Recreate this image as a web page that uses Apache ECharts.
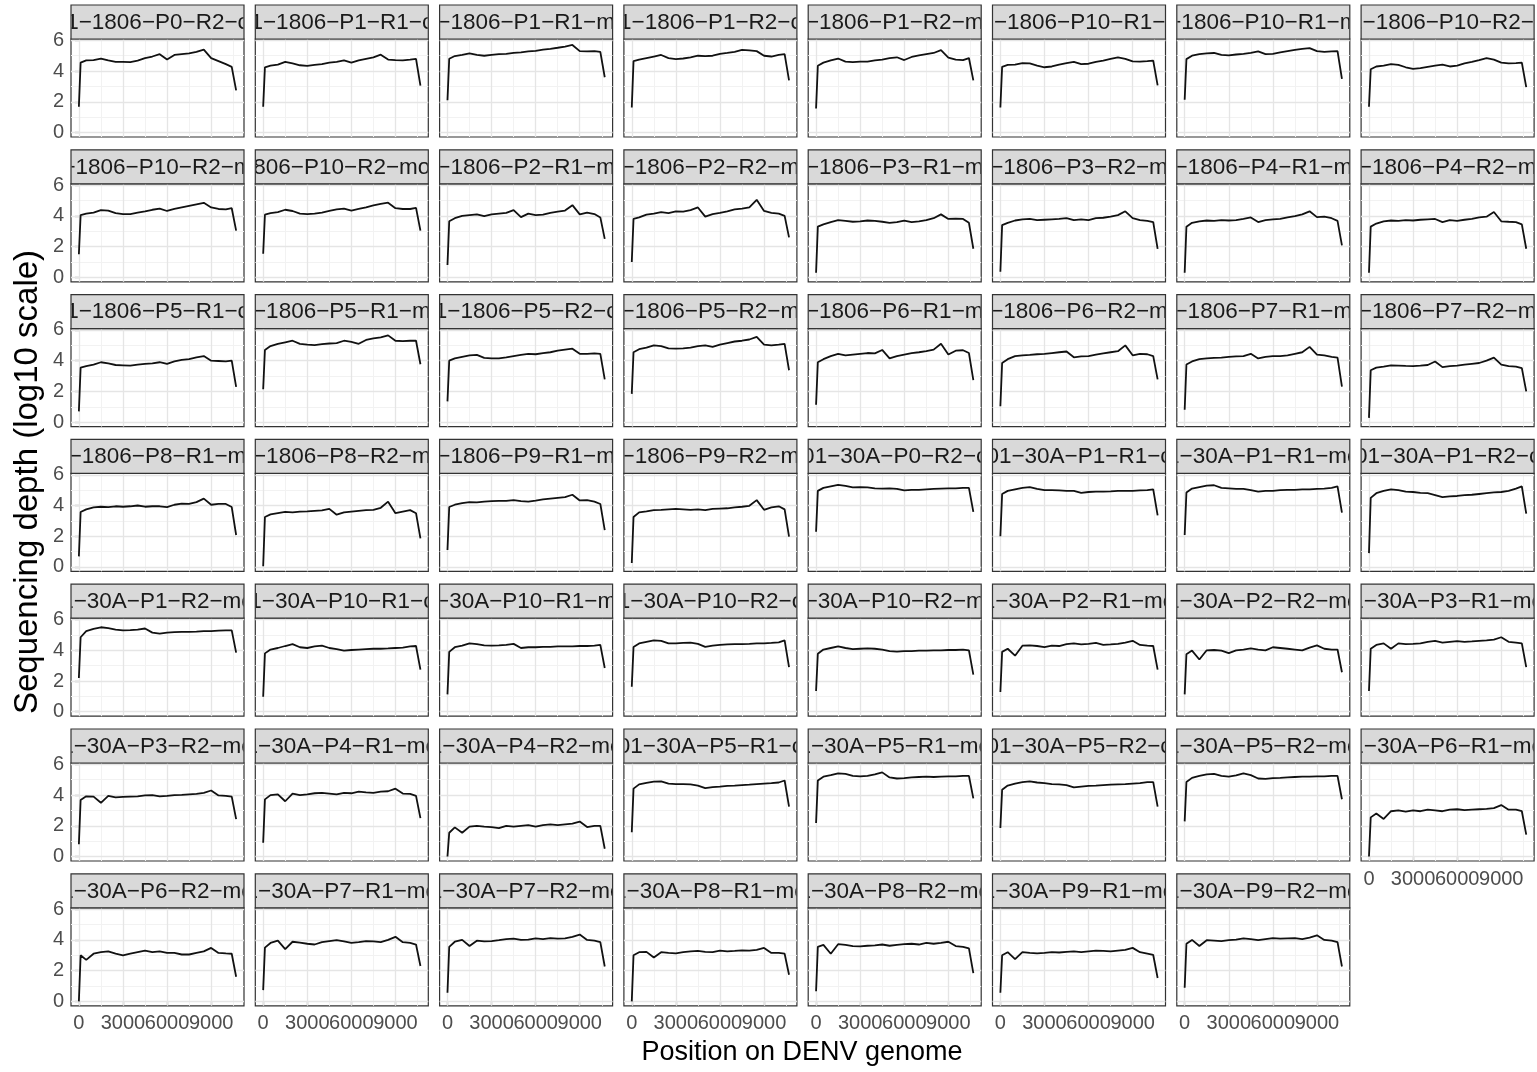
<!DOCTYPE html>
<html>
<head>
<meta charset="utf-8">
<script src="https://cdn.jsdelivr.net/npm/echarts@6/dist/echarts.min.js"></script>
<style>
html, body { margin: 0; padding: 0; background: #fff; }
#chart { width: 1537px; height: 1072px; }
</style>
</head>
<body>
<div id="chart"></div>
<script>
// position on the genome (bp) where the depth was read
var positions = [0, 120, 500, 1000, 1500, 2000, 2500, 3000, 3500, 4000, 4500, 5000, 5500, 6000, 6500, 7000, 7500, 8000, 8500, 9000, 9500, 10000, 10400, 10700];

// strip labels, as far as they show inside the strips (clipped at both ends)
var panelNames = [
  '1−1806−P0−R2−c', '1−1806−P1−R1−c', '−1806−P1−R1−m', '1−1806−P1−R2−c', '−1806−P1−R2−m', '1−1806−P10−R1−c', '−1806−P10−R1−m', '1−1806−P10−R2−c',
  '−1806−P10−R2−m', '806−P10−R2−mo', '−1806−P2−R1−m', '−1806−P2−R2−m', '−1806−P3−R1−m', '−1806−P3−R2−m', '−1806−P4−R1−m', '−1806−P4−R2−m',
  '1−1806−P5−R1−c', '−1806−P5−R1−m', '1−1806−P5−R2−c', '−1806−P5−R2−m', '−1806−P6−R1−m', '−1806−P6−R2−m', '−1806−P7−R1−m', '−1806−P7−R2−m',
  '−1806−P8−R1−m', '−1806−P8−R2−m', '−1806−P9−R1−m', '−1806−P9−R2−m', '01−30A−P0−R2−c', '01−30A−P1−R1−c', '1−30A−P1−R1−mo', '01−30A−P1−R2−c',
  '1−30A−P1−R2−mo', '1−30A−P10−R1−c', '−30A−P10−R1−m', '1−30A−P10−R2−c', '−30A−P10−R2−m', '1−30A−P2−R1−mo', '1−30A−P2−R2−mo', '1−30A−P3−R1−mo',
  '1−30A−P3−R2−mo', '1−30A−P4−R1−mo', '1−30A−P4−R2−mo', '01−30A−P5−R1−c', '1−30A−P5−R1−mo', '01−30A−P5−R2−c', '1−30A−P5−R2−mo', '1−30A−P6−R1−mo',
  '1−30A−P6−R2−mo', '1−30A−P7−R1−mo', '1−30A−P7−R2−mo', '1−30A−P8−R1−mo', '1−30A−P8−R2−mo', '1−30A−P9−R1−mo', '1−30A−P9−R2−mo'
];

// sequencing depth, log10, one array per panel
var d01 = [1.68, 4.55, 4.7, 4.72, 4.82, 4.7, 4.6, 4.6, 4.58, 4.68, 4.85, 4.95, 5.1, 4.75, 5.05, 5.1, 5.15, 5.25, 5.4, 4.85, 4.65, 4.45, 4.28, 2.75];
var d02 = [1.68, 4.25, 4.35, 4.42, 4.6, 4.5, 4.38, 4.34, 4.4, 4.45, 4.55, 4.6, 4.7, 4.55, 4.7, 4.8, 4.9, 5.07, 4.75, 4.72, 4.7, 4.75, 4.8, 3.05];
var d03 = [2.1, 4.8, 4.98, 5.05, 5.15, 5.05, 5.0, 5.05, 5.1, 5.12, 5.18, 5.22, 5.28, 5.32, 5.4, 5.45, 5.52, 5.6, 5.7, 5.3, 5.28, 5.3, 5.25, 3.6];
var d04 = [1.63, 4.65, 4.75, 4.85, 4.95, 5.05, 4.85, 4.78, 4.82, 4.9, 5.0, 4.98, 5.0, 5.12, 5.18, 5.25, 5.38, 5.35, 5.3, 5.0, 4.95, 5.05, 5.1, 3.4];
var d05 = [1.57, 4.35, 4.55, 4.7, 4.82, 4.62, 4.58, 4.62, 4.62, 4.7, 4.75, 4.85, 4.9, 4.72, 4.92, 5.02, 5.1, 5.18, 5.36, 4.88, 4.75, 4.72, 4.85, 3.4];
var d06 = [1.63, 4.28, 4.4, 4.42, 4.52, 4.5, 4.35, 4.25, 4.3, 4.42, 4.52, 4.6, 4.45, 4.48, 4.6, 4.68, 4.8, 4.9, 4.8, 4.63, 4.62, 4.65, 4.68, 3.07];
var d07 = [2.14, 4.78, 5.0, 5.1, 5.15, 5.18, 5.05, 5.02, 5.08, 5.12, 5.18, 5.28, 5.1, 5.12, 5.22, 5.3, 5.38, 5.45, 5.5, 5.3, 5.25, 5.28, 5.3, 3.5];
var d08 = [1.68, 4.12, 4.3, 4.35, 4.45, 4.4, 4.25, 4.15, 4.2, 4.28, 4.35, 4.42, 4.3, 4.35, 4.5, 4.6, 4.72, 4.85, 4.75, 4.55, 4.5, 4.52, 4.55, 2.96];
var d09 = [1.5, 4.05, 4.15, 4.22, 4.38, 4.35, 4.18, 4.12, 4.12, 4.22, 4.3, 4.4, 4.48, 4.32, 4.45, 4.55, 4.65, 4.75, 4.85, 4.55, 4.45, 4.42, 4.5, 3.04];
var d10 = [1.54, 4.08, 4.18, 4.25, 4.4, 4.32, 4.15, 4.12, 4.15, 4.22, 4.32, 4.42, 4.48, 4.35, 4.45, 4.55, 4.68, 4.78, 4.86, 4.5, 4.45, 4.45, 4.52, 3.04];
var d11 = [0.8, 3.65, 3.85, 4.0, 4.05, 4.1, 3.98, 4.1, 4.15, 4.2, 4.38, 3.92, 4.15, 4.05, 4.08, 4.2, 4.28, 4.35, 4.7, 4.1, 4.22, 4.12, 3.9, 2.5];
var d12 = [1.0, 3.8, 3.9, 4.08, 4.15, 4.25, 4.18, 4.3, 4.28, 4.38, 4.55, 3.95, 4.12, 4.2, 4.3, 4.42, 4.48, 4.55, 5.05, 4.32, 4.2, 4.15, 4.0, 2.6];
var d13 = [0.3, 3.3, 3.45, 3.6, 3.72, 3.68, 3.62, 3.65, 3.7, 3.68, 3.62, 3.55, 3.6, 3.7, 3.6, 3.65, 3.72, 3.85, 4.1, 3.8, 3.82, 3.8, 3.55, 1.86];
var d14 = [0.36, 3.4, 3.55, 3.7, 3.78, 3.8, 3.72, 3.75, 3.78, 3.8, 3.85, 3.72, 3.78, 3.72, 3.85, 3.88, 3.95, 4.05, 4.3, 3.85, 3.72, 3.68, 3.6, 1.86];
var d15 = [0.3, 3.3, 3.55, 3.65, 3.7, 3.68, 3.72, 3.7, 3.72, 3.8, 3.9, 3.6, 3.72, 3.78, 3.8, 3.9, 3.98, 4.1, 4.3, 3.92, 3.95, 3.85, 3.68, 2.08];
var d16 = [0.3, 3.3, 3.5, 3.65, 3.7, 3.68, 3.72, 3.7, 3.75, 3.78, 3.8, 3.6, 3.72, 3.68, 3.75, 3.8, 3.9, 3.95, 4.25, 3.65, 3.62, 3.6, 3.45, 1.86];
var d17 = [0.7, 3.55, 3.65, 3.75, 3.9, 3.82, 3.72, 3.7, 3.68, 3.75, 3.8, 3.82, 3.9, 3.8, 3.95, 4.05, 4.1, 4.22, 4.3, 4.0, 3.98, 3.95, 4.0, 2.3];
var d18 = [2.14, 4.7, 4.95, 5.1, 5.2, 5.3, 5.1, 5.05, 5.02, 5.08, 5.12, 5.15, 5.3, 5.22, 5.1, 5.35, 5.45, 5.52, 5.65, 5.3, 5.28, 5.3, 5.3, 3.77];
var d19 = [1.35, 4.0, 4.15, 4.25, 4.35, 4.38, 4.18, 4.15, 4.15, 4.22, 4.3, 4.38, 4.45, 4.42, 4.5, 4.55, 4.65, 4.72, 4.78, 4.45, 4.45, 4.48, 4.45, 2.78];
var d20 = [1.84, 4.55, 4.75, 4.85, 5.0, 4.95, 4.8, 4.78, 4.8, 4.85, 4.95, 5.0, 4.9, 5.05, 5.15, 5.25, 5.3, 5.38, 5.55, 5.05, 5.0, 5.05, 5.1, 3.38];
var d21 = [1.13, 3.9, 4.1, 4.3, 4.45, 4.35, 4.4, 4.45, 4.5, 4.48, 4.7, 4.15, 4.3, 4.4, 4.5, 4.55, 4.62, 4.72, 5.1, 4.4, 4.65, 4.68, 4.5, 2.74];
var d22 = [1.03, 3.85, 4.1, 4.3, 4.35, 4.38, 4.42, 4.45, 4.5, 4.55, 4.6, 4.22, 4.28, 4.3, 4.4, 4.48, 4.55, 4.62, 5.0, 4.35, 4.45, 4.42, 4.3, 2.78];
var d23 = [0.81, 3.75, 3.95, 4.1, 4.15, 4.18, 4.2, 4.25, 4.28, 4.3, 4.45, 4.15, 4.25, 4.3, 4.3, 4.35, 4.45, 4.55, 4.9, 4.4, 4.35, 4.25, 4.2, 2.31];
var d24 = [0.28, 3.38, 3.55, 3.62, 3.7, 3.68, 3.66, 3.65, 3.68, 3.72, 3.95, 3.58, 3.65, 3.68, 3.75, 3.8, 3.85, 4.0, 4.2, 3.75, 3.65, 3.62, 3.52, 2.0];
var d25 = [0.69, 3.58, 3.75, 3.88, 3.92, 3.9, 3.95, 3.92, 3.95, 4.0, 3.92, 3.95, 3.95, 3.9, 4.05, 4.12, 4.1, 4.22, 4.45, 4.05, 4.1, 4.1, 3.9, 2.08];
var d26 = [0.05, 3.25, 3.42, 3.5, 3.58, 3.55, 3.6, 3.62, 3.65, 3.68, 3.78, 3.4, 3.55, 3.6, 3.65, 3.7, 3.72, 3.85, 4.25, 3.5, 3.6, 3.7, 3.5, 1.86];
var d27 = [1.1, 3.9, 4.05, 4.15, 4.22, 4.2, 4.25, 4.28, 4.3, 4.3, 4.35, 4.28, 4.25, 4.32, 4.4, 4.45, 4.5, 4.55, 4.7, 4.33, 4.35, 4.25, 4.1, 2.4];
var d28 = [0.26, 3.25, 3.55, 3.62, 3.7, 3.72, 3.75, 3.78, 3.75, 3.72, 3.75, 3.7, 3.78, 3.8, 3.82, 3.88, 3.92, 3.98, 4.35, 3.72, 3.88, 3.95, 3.75, 1.97];
var d29 = [2.29, 4.95, 5.15, 5.25, 5.35, 5.28, 5.18, 5.2, 5.18, 5.12, 5.1, 5.12, 5.08, 4.98, 5.02, 5.02, 5.05, 5.08, 5.1, 5.12, 5.12, 5.15, 5.15, 3.58];
var d30 = [2.0, 4.75, 4.95, 5.05, 5.15, 5.2, 5.08, 5.0, 5.0, 4.98, 4.95, 4.95, 4.82, 4.88, 4.9, 4.9, 4.92, 4.95, 4.95, 4.95, 4.98, 5.0, 5.05, 3.36];
var d31 = [2.08, 4.85, 5.1, 5.2, 5.3, 5.32, 5.15, 5.12, 5.08, 5.08, 5.0, 4.9, 4.95, 4.95, 5.0, 5.02, 5.02, 5.05, 5.05, 5.08, 5.1, 5.15, 5.25, 3.53];
var d32 = [0.9, 4.5, 4.8, 4.95, 5.05, 5.0, 4.9, 4.88, 4.82, 4.8, 4.68, 4.55, 4.6, 4.62, 4.68, 4.7, 4.75, 4.8, 4.85, 4.88, 4.95, 5.1, 5.25, 3.47];
var d33 = [2.2, 4.85, 5.25, 5.4, 5.5, 5.45, 5.35, 5.3, 5.32, 5.35, 5.42, 5.15, 5.08, 5.15, 5.18, 5.2, 5.2, 5.22, 5.25, 5.25, 5.28, 5.3, 5.3, 3.85];
var d34 = [0.98, 3.8, 4.05, 4.15, 4.28, 4.4, 4.2, 4.15, 4.25, 4.3, 4.15, 4.08, 3.98, 4.02, 4.05, 4.08, 4.1, 4.1, 4.12, 4.15, 4.18, 4.25, 4.28, 2.74];
var d35 = [1.13, 3.9, 4.2, 4.3, 4.45, 4.4, 4.32, 4.3, 4.32, 4.35, 4.42, 4.15, 4.2, 4.2, 4.22, 4.22, 4.25, 4.25, 4.25, 4.28, 4.28, 4.3, 4.35, 2.85];
var d36 = [1.63, 4.22, 4.45, 4.55, 4.65, 4.62, 4.45, 4.45, 4.48, 4.5, 4.42, 4.22, 4.3, 4.35, 4.38, 4.4, 4.4, 4.42, 4.45, 4.45, 4.48, 4.52, 4.65, 2.91];
var d37 = [1.35, 3.78, 4.05, 4.15, 4.25, 4.15, 4.08, 4.1, 4.12, 4.1, 4.05, 3.95, 3.92, 3.95, 3.95, 3.98, 3.98, 4.0, 4.0, 4.02, 4.02, 4.05, 4.0, 2.42];
var d38 = [1.28, 3.9, 4.1, 3.65, 4.3, 4.32, 4.28, 4.2, 4.3, 4.28, 4.4, 4.45, 4.38, 4.42, 4.48, 4.35, 4.38, 4.42, 4.5, 4.62, 4.35, 4.3, 4.28, 2.74];
var d39 = [1.13, 3.75, 3.98, 3.4, 4.0, 4.02, 3.98, 3.82, 4.0, 4.05, 4.12, 4.05, 4.0, 4.2, 4.15, 4.1, 4.05, 4.0, 4.18, 4.32, 4.1, 4.05, 4.05, 2.57];
var d40 = [1.35, 4.1, 4.35, 4.45, 4.1, 4.45, 4.4, 4.42, 4.45, 4.55, 4.62, 4.5, 4.55, 4.6, 4.55, 4.58, 4.62, 4.65, 4.7, 4.85, 4.55, 4.5, 4.45, 2.91];
var d41 = [0.8, 3.68, 3.92, 3.9, 3.5, 3.95, 3.85, 3.88, 3.9, 3.92, 3.98, 4.0, 3.92, 3.95, 4.0, 4.02, 4.05, 4.08, 4.15, 4.3, 3.98, 3.95, 3.9, 2.44];
var d42 = [0.9, 3.72, 4.0, 4.05, 3.6, 4.1, 4.0, 4.05, 4.12, 4.15, 4.1, 4.05, 4.15, 4.12, 4.22, 4.18, 4.15, 4.22, 4.25, 4.42, 4.1, 4.08, 3.95, 2.5];
var d43 = [0.0, 1.55, 1.9, 1.55, 1.95, 2.0, 1.95, 1.92, 1.85, 2.0, 1.95, 2.0, 2.05, 1.95, 2.05, 2.1, 2.05, 2.1, 2.15, 2.28, 1.92, 2.0, 2.0, 0.51];
var d44 = [1.58, 4.42, 4.7, 4.8, 4.88, 4.9, 4.75, 4.72, 4.72, 4.7, 4.62, 4.45, 4.52, 4.55, 4.6, 4.62, 4.65, 4.68, 4.72, 4.75, 4.78, 4.82, 4.95, 3.25];
var d45 = [2.18, 4.95, 5.2, 5.3, 5.42, 5.38, 5.25, 5.22, 5.25, 5.35, 5.48, 5.15, 5.08, 5.1, 5.15, 5.18, 5.2, 5.18, 5.2, 5.22, 5.22, 5.25, 5.25, 3.79];
var d46 = [1.86, 4.35, 4.62, 4.75, 4.85, 4.9, 4.82, 4.78, 4.72, 4.7, 4.65, 4.5, 4.55, 4.6, 4.62, 4.65, 4.68, 4.7, 4.72, 4.75, 4.78, 4.85, 4.85, 3.25];
var d47 = [2.29, 4.85, 5.12, 5.25, 5.35, 5.38, 5.25, 5.2, 5.28, 5.42, 5.3, 5.08, 5.05, 5.1, 5.12, 5.15, 5.18, 5.2, 5.2, 5.22, 5.22, 5.25, 5.25, 3.73];
var d48 = [0.0, 2.55, 2.8, 2.45, 2.95, 3.0, 2.92, 3.0, 2.95, 3.05, 3.0, 2.95, 3.05, 3.08, 3.02, 3.05, 3.08, 3.1, 3.15, 3.35, 3.05, 3.05, 2.95, 1.43];
var d49 = [0.0, 3.0, 2.7, 3.1, 3.2, 3.25, 3.1, 3.0, 3.1, 3.2, 3.3, 3.2, 3.25, 3.15, 3.15, 3.05, 3.05, 3.15, 3.25, 3.48, 3.15, 3.12, 3.1, 1.6];
var d50 = [0.73, 3.5, 3.8, 3.95, 3.4, 3.88, 3.82, 3.75, 3.7, 3.85, 3.92, 3.98, 3.9, 3.8, 3.85, 3.92, 3.9, 3.85, 4.0, 4.2, 3.85, 3.8, 3.7, 2.3];
var d51 = [0.56, 3.55, 3.88, 4.0, 3.6, 3.95, 3.9, 3.92, 3.98, 4.05, 4.08, 4.0, 4.02, 4.1, 4.05, 4.12, 4.08, 4.1, 4.2, 4.35, 4.0, 3.95, 3.85, 2.27];
var d52 = [0.0, 3.0, 3.2, 3.22, 2.85, 3.2, 3.15, 3.12, 3.2, 3.25, 3.28, 3.22, 3.2, 3.3, 3.25, 3.28, 3.32, 3.3, 3.35, 3.48, 3.15, 3.15, 3.1, 1.73];
var d53 = [0.66, 3.55, 3.68, 3.1, 3.72, 3.68, 3.6, 3.58, 3.62, 3.65, 3.7, 3.62, 3.68, 3.72, 3.75, 3.7, 3.8, 3.75, 3.8, 3.88, 3.6, 3.55, 3.45, 1.84];
var d54 = [0.56, 3.0, 3.2, 2.75, 3.2, 3.15, 3.12, 3.15, 3.2, 3.18, 3.22, 3.25, 3.2, 3.25, 3.3, 3.28, 3.25, 3.3, 3.35, 3.48, 3.2, 3.1, 3.02, 1.52];
var d55 = [0.88, 3.75, 4.0, 3.6, 3.98, 3.95, 3.92, 3.98, 4.02, 4.1, 4.05, 3.98, 4.05, 4.12, 4.08, 4.1, 4.12, 4.05, 4.15, 4.3, 4.0, 3.95, 3.85, 2.27];

var depths = [d01, d02, d03, d04, d05, d06, d07, d08, d09, d10, d11, d12, d13, d14, d15, d16, d17, d18, d19, d20,
  d21, d22, d23, d24, d25, d26, d27, d28, d29, d30, d31, d32, d33, d34, d35, d36, d37, d38, d39, d40,
  d41, d42, d43, d44, d45, d46, d47, d48, d49, d50, d51, d52, d53, d54, d55];

// axis ticks
var xTicks = [0, 3000, 6000, 9000];
var xMinor = [1500, 4500, 7500, 10500];
var yTicks = [0, 2, 4, 6];
var yMinor = [1, 3, 5];

var FONT = '"Liberation Sans", Arial, sans-serif';
var NCOL = 8;

function panelBox(i) {
  var col = i % NCOL, row = Math.floor(i / NCOL);
  return { col: col, row: row, left: 71 + col * 184.3, top: 39 + row * 144.8 };
}

var chart = echarts.init(document.getElementById('chart'));

var grids = [], xAxes = [], yAxes = [], series = [];

// background grid lines, drawn as mark lines under the data
var gridLines = [];
xMinor.forEach(function (v) { gridLines.push({ xAxis: v, lineStyle: { color: '#f2f2f2', width: 1, type: 'solid' } }); });
yMinor.forEach(function (v) { gridLines.push({ yAxis: v, lineStyle: { color: '#f2f2f2', width: 1, type: 'solid' } }); });
xTicks.forEach(function (v) { gridLines.push({ xAxis: v, lineStyle: { color: '#e5e5e5', width: 1.3, type: 'solid' } }); });
yTicks.forEach(function (v) { gridLines.push({ yAxis: v, lineStyle: { color: '#e5e5e5', width: 1.3, type: 'solid' } }); });

var bottomPanels = [];

depths.forEach(function (vals, i) {
  var b = panelBox(i);
  var showX = i + NCOL >= depths.length;
  var showY = b.col === 0;
  if (showX) bottomPanels.push(i);

  grids.push({
    left: b.left, top: b.top, width: 173, height: 98,
    show: true, backgroundColor: '#fff', borderColor: '#333', borderWidth: 1.2
  });
  xAxes.push({
    type: 'value', gridIndex: i, min: -535, max: 11235,
    axisLine: { show: false }, splitLine: { show: false },
    axisTick: { show: showX, customValues: xTicks, length: 4, lineStyle: { color: '#333', width: 1.2 } },
    axisLabel: { show: false }
  });
  yAxes.push({
    type: 'value', gridIndex: i, min: -0.29, max: 6.09,
    axisLine: { show: false }, splitLine: { show: false },
    axisTick: { show: showY, customValues: yTicks, length: 4, lineStyle: { color: '#333', width: 1.2 } },
    axisLabel: {
      show: showY, customValues: yTicks, showMinLabel: true, showMaxLabel: true,
      color: '#4d4d4d', fontSize: 20, fontFamily: FONT, margin: 7
    }
  });
  series.push({
    type: 'line', xAxisIndex: i, yAxisIndex: i, data: [], silent: true, z: 1, animation: false,
    markLine: { silent: true, z: 1, symbol: 'none', animation: false, label: { show: false }, data: gridLines }
  });
  series.push({
    type: 'line', xAxisIndex: i, yAxisIndex: i, z: 3, animation: false, silent: true,
    showSymbol: false, symbol: 'none',
    lineStyle: { color: '#111', width: 1.8 },
    data: positions.map(function (p, k) { return [p, vals[k]]; })
  });
});

// facet strips: grey box with the label clipped to the box
series.push({
  type: 'custom', coordinateSystem: 'none', silent: true, z: 10, animation: false,
  data: panelNames.map(function (n, i) { return [i]; }),
  renderItem: function (params) {
    var b = panelBox(params.dataIndex);
    var y0 = b.top - 34;
    return {
      type: 'group',
      children: [
        { type: 'rect', shape: { x: b.left, y: y0, width: 173, height: 34 },
          style: { fill: '#d9d9d9', stroke: '#333', lineWidth: 1.2 } },
        { type: 'group',
          clipPath: { type: 'rect', shape: { x: b.left + 0.6, y: y0, width: 171.8, height: 34 } },
          children: [{
            type: 'text', x: b.left + 86.5, y: y0 + 17.5,
            style: {
              text: panelNames[params.dataIndex], font: '22.5px ' + FONT, fill: '#1a1a1a',
              textAlign: 'center', textVerticalAlign: 'middle', align: 'center', verticalAlign: 'middle'
            }
          }]
        }
      ]
    };
  }
});

chart.setOption({
  backgroundColor: '#fff',
  animation: false,
  grid: grids,
  xAxis: xAxes,
  yAxis: yAxes,
  series: series
});

// x tick labels: placed through each panel's own x scale, so that overlapping
// labels are all kept, as in the original figure
var texts = [
  { type: 'text', x: 802, y: 1053, z: 11,
    style: { text: 'Position on DENV genome', font: '27px ' + FONT, fill: '#000', textAlign: 'center', textVerticalAlign: 'middle' } },
  { type: 'text', x: 28, y: 482, rotation: Math.PI / 2, z: 11,
    style: { text: 'Sequencing depth (log10 scale)', font: '33px ' + FONT, fill: '#000', textAlign: 'center', textVerticalAlign: 'middle' } }
];
bottomPanels.forEach(function (i) {
  var b = panelBox(i);
  xTicks.forEach(function (v) {
    var px = chart.convertToPixel({ xAxisIndex: i }, v);
    texts.push({
      type: 'text', x: px, y: b.top + 98 + 8, z: 11,
      style: { text: String(v), font: '20px ' + FONT, fill: '#4d4d4d', textAlign: 'center', textVerticalAlign: 'top' }
    });
  });
});
chart.setOption({ graphic: texts });
</script>
</body>
</html>
